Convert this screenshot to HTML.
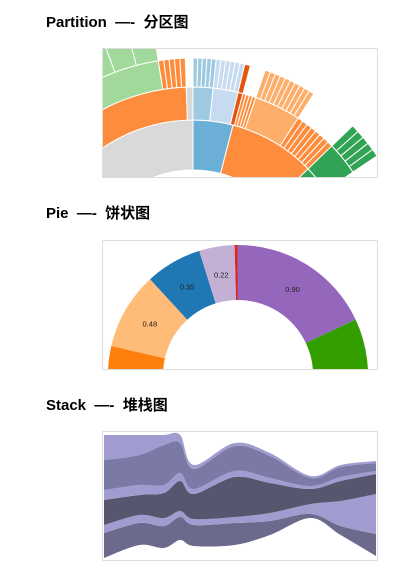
<!DOCTYPE html>
<html><head><meta charset="utf-8"><style>
html,body{margin:0;padding:0;background:#fff;width:417px;height:576px;overflow:hidden}
.t{position:absolute;left:46px;font:bold 15px "Liberation Sans","Noto Sans CJK SC",sans-serif;color:#000;white-space:pre}
svg{position:absolute;left:0;top:0}
</style></head><body>
<div class="t" style="top:11px">Partition  —-  分区图</div>
<div class="t" style="top:202px">Pie  —-  饼状图</div>
<div class="t" style="top:394px">Stack  —-  堆栈图</div>
<svg id="s" width="417" height="576">
<defs>
<clipPath id="c1"><rect x="103" y="49" width="274" height="128"/></clipPath>
<clipPath id="c2"><rect x="103" y="241" width="274" height="128"/></clipPath>
<clipPath id="c3"><rect x="103" y="432" width="274" height="128"/></clipPath>
</defs>
<rect x="102.5" y="48.5" width="275" height="129" fill="none" stroke="#ddd"/>
<rect x="102.5" y="240.5" width="275" height="129" fill="none" stroke="#ddd"/>
<rect x="102.5" y="431.5" width="275" height="129" fill="none" stroke="#ddd"/>
<g id="g1" clip-path="url(#c1)"></g>
<g id="g2" clip-path="url(#c2)"></g>
<g id="g3" clip-path="url(#c3)"></g>
</svg>
<script>
// ---- Partition data ----
const partStarts = [-90,0,14.5,46, -90,-2,0,6,13.5,15,19,33,46, -90,-9,0,6,13.5,19,46, -90];
const partEnds   = [0,14.5,46,58, -2,0,6,13.5,15,19,33,46,56, -9,-2,6,13.5,15,33,56, -9];
const partDepth  = [1,1,1,1, 2,2,2,2,2,2,2,2,2, 3,3,3,3,3,3,3, 4];
const partColors = ['#d9d9d9','#6baed6','#fd8d3c','#31a354','#fd8d3c','#d9d9d9','#9ecae1','#c6dbef','#e6550d','#fd8d3c','#fdae6b','#fd8d3c','#31a354','#a1d99b','#fd8d3c','#9ecae1','#c6dbef','#e6550d','#fdae6b','#31a354','#a1d99b'];
const partLeaves = [1,1,1,1, 1,1,1,1,1,4,1,8,1, 1,5,5,6,1,10,5, 14];
// ---- Pie data ----
const pieValues = [0.25,0.48,0.35,0.22,0.02,0.90,0.50];
const pieLabels = ['','0.48','0.35','0.22','','0.90',''];
const pieColors = ['#ff7f0e','#ffbb78','#1f77b4','#c5b0d5','#d62728','#9467bd','#339e00'];
// ---- Stack data ----
const stackT = [0,13,22,28,33,48,61,76,87,100];
const stackBase = [2,15,12,20,14,15,25,42,25,4];
const layer1 = [25,20,10,8,4,3,3,2,2,2];
const layer2 = [30,30,40,30,20,25,22,8,10,8];
const layer3 = [10,10,8,8,5,6,5,3,4,3];
const layer4 = [25,20,25,30,25,40,30,15,20,20];
const layer5 = [8,8,8,6,6,6,8,10,25,40];
const layer6 = [25,22,22,23,21,22,14,4,9,22];

const NS='http://www.w3.org/2000/svg';
function arc(cx,cy,r0,r1,a0,a1){
  const p=(r,a)=>{const t=a*Math.PI/180;return [cx+r*Math.sin(t),cy-r*Math.cos(t)];};
  const L=(a1-a0)>180?1:0;
  const [x0,y0]=p(r1,a0),[x1,y1]=p(r1,a1),[x2,y2]=p(r0,a1),[x3,y3]=p(r0,a0);
  return `M${x0},${y0}A${r1},${r1} 0 ${L} 1 ${x1},${y1}L${x2},${y2}A${r0},${r0} 0 ${L} 0 ${x3},${y3}Z`;
}
// partition
const g1=document.getElementById('g1');
const radii=[0,110,160,193,222,250];
const pcx=193,pcy=280;
for(let i=0;i<partStarts.length;i++){
  const d=partDepth[i],n=partLeaves[i],step=(partEnds[i]-partStarts[i])/n;
  const rOut = radii[d+1];
  for(let k=0;k<n;k++){
    const el=document.createElementNS(NS,'path');
    el.setAttribute('d',arc(pcx,pcy,radii[d],rOut,partStarts[i]+k*step,partStarts[i]+(k+1)*step));
    el.setAttribute('fill',partColors[i]);el.setAttribute('stroke','#fff');el.setAttribute('stroke-width','1');
    
    
    g1.appendChild(el);
  }
}
// pie
const g2=document.getElementById('g2');
const degPer=72, pcx2=238, pcy2=375;
let a=-1.5-degPer*(pieValues[0]+pieValues[1]+pieValues[2]+pieValues[3]);
pieValues.forEach((v,i)=>{
  const a1=a+v*degPer;
  const el=document.createElementNS(NS,'path');
  el.setAttribute('d',arc(pcx2,pcy2,75,130,a,a1));
  el.setAttribute('fill',pieColors[i]);
  
  
  g2.appendChild(el);
  if(pieLabels[i]){
    const m=(a+a1)/2*Math.PI/180,r=102;
    const tx=document.createElementNS(NS,'text');
    tx.setAttribute('x',pcx2+r*Math.sin(m));tx.setAttribute('y',pcy2-r*Math.cos(m)+3);
    tx.setAttribute('text-anchor','middle');tx.setAttribute('font-size','7.5');
    tx.setAttribute('font-family','Liberation Sans, sans-serif');tx.setAttribute('fill','#222');
    tx.textContent=pieLabels[i];
    
    
    g2.appendChild(tx);
  }
  a=a1;
});
// stack
const g3=document.getElementById('g3');
const sx=t=>104+t*2.72, sy=v=>560-v;
const layers=[layer6,layer5,layer4,layer3,layer2,layer1];
const lcol=['#6b6a8c','#a09cd0','#56566e','#a09cd0','#7b7aa6','#a09cd0'];
function curve(pts){
  let d='';
  for(let i=0;i<pts.length-1;i++){
    const p0=pts[Math.max(0,i-1)],p1=pts[i],p2=pts[i+1],p3=pts[Math.min(pts.length-1,i+2)];
    const c1=[p1[0]+(p2[0]-p0[0])/6,p1[1]+(p2[1]-p0[1])/6],c2=[p2[0]-(p3[0]-p1[0])/6,p2[1]-(p3[1]-p1[1])/6];
    d+=`C${c1[0]},${c1[1]} ${c2[0]},${c2[1]} ${p2[0]},${p2[1]}`;
  }
  return d;
}
let low=stackBase.slice();
layers.forEach((L,li)=>{
  const high=low.map((v,i)=>v+L[i]);
  const top=stackT.map((t,i)=>[sx(t),sy(high[i])]);
  const bot=stackT.map((t,i)=>[sx(t),sy(low[i])]).reverse();
  const d=`M${top[0][0]},${top[0][1]}`+curve(top)+`L${bot[0][0]},${bot[0][1]}`+curve(bot)+'Z';
  const el=document.createElementNS(NS,'path');
  el.setAttribute('d',d);el.setAttribute('fill',lcol[li]);
  
  
  g3.appendChild(el);
  low=high;
});
</script>
</body></html>
